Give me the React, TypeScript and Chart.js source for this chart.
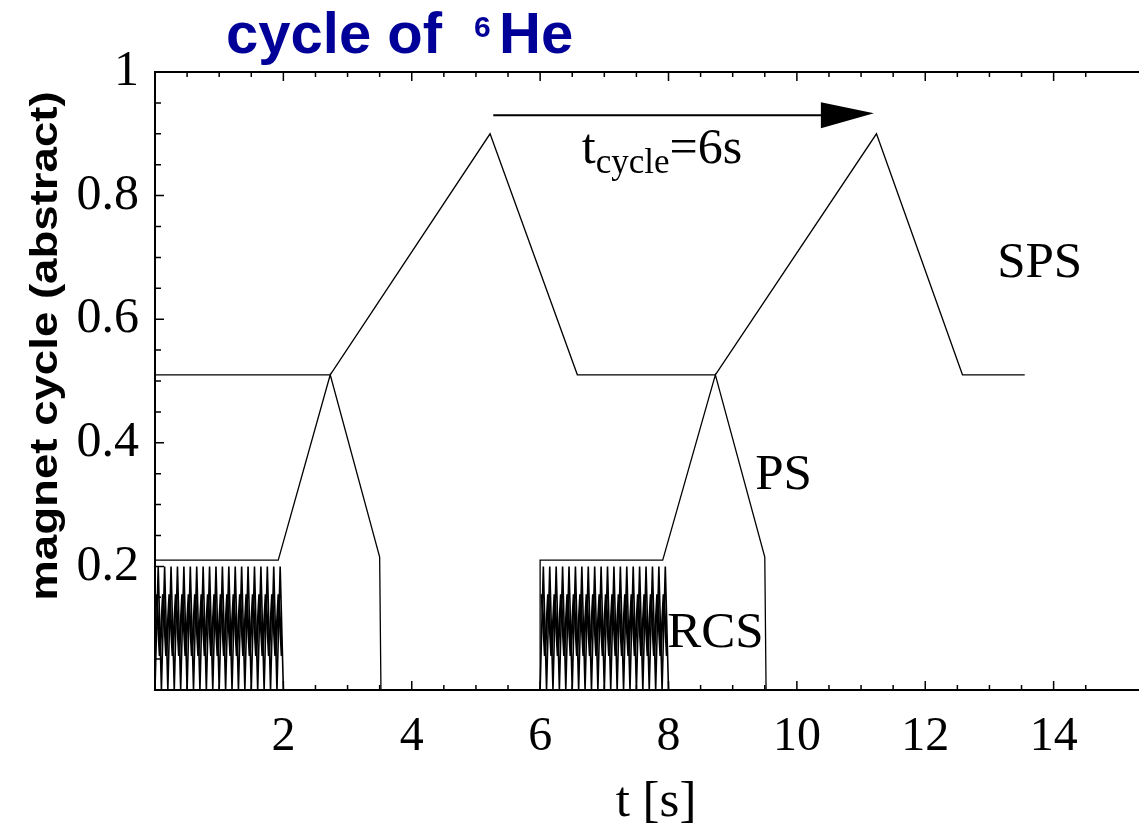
import React, { useEffect, useRef } from 'react';
import { Chart, registerables } from 'chart.js';

Chart.register(...registerables);

// ---- data ----
const spsTimes = [0, 2.73, 5.22, 6.58, 8.73, 11.24, 12.58, 13.55];
const spsLevels = [0.51, 0.51, 0.9, 0.51, 0.51, 0.9, 0.51, 0.51];

const psTimes1 = [0, 1.92, 2.73, 3.5, 3.52];
const psLevels1 = [0.21, 0.21, 0.51, 0.215, 0];
const psTimes2 = [6.0, 6.0, 7.91, 8.73, 9.5, 9.52];
const psLevels2 = [0, 0.21, 0.21, 0.51, 0.215, 0];

const rcsOuterTimes1 = [0, 0.05, 0.1, 0.15, 0.2, 0.25, 0.3, 0.35, 0.4, 0.45, 0.5, 0.55, 0.6, 0.65, 0.7, 0.75, 0.8, 0.85, 0.9, 0.95, 1, 1.05, 1.1, 1.15, 1.2, 1.25, 1.3, 1.35, 1.4, 1.45, 1.5, 1.55, 1.6, 1.65, 1.7, 1.75, 1.8, 1.85, 1.9, 1.95, 2];
const rcsOuterTimes2 = [6, 6.05, 6.1, 6.15, 6.2, 6.25, 6.3, 6.35, 6.4, 6.45, 6.5, 6.55, 6.6, 6.65, 6.7, 6.75, 6.8, 6.85, 6.9, 6.95, 7, 7.05, 7.1, 7.15, 7.2, 7.25, 7.3, 7.35, 7.4, 7.45, 7.5, 7.55, 7.6, 7.65, 7.7, 7.75, 7.8, 7.85, 7.9, 7.95, 8];
const rcsOuterLevels = [0, 0.2, 0, 0.2, 0, 0.2, 0, 0.2, 0, 0.2, 0, 0.2, 0, 0.2, 0, 0.2, 0, 0.2, 0, 0.2, 0, 0.2, 0, 0.2, 0, 0.2, 0, 0.2, 0, 0.2, 0, 0.2, 0, 0.2, 0, 0.2, 0, 0.2, 0, 0.2, 0];

const rcsInnerTimes1 = [0.025, 0.075, 0.125, 0.175, 0.225, 0.275, 0.325, 0.375, 0.425, 0.475, 0.525, 0.575, 0.625, 0.675, 0.725, 0.775, 0.825, 0.875, 0.925, 0.975, 1.025, 1.075, 1.125, 1.175, 1.225, 1.275, 1.325, 1.375, 1.425, 1.475, 1.525, 1.575, 1.625, 1.675, 1.725, 1.775, 1.825, 1.875, 1.925, 1.975];
const rcsInnerTimes2 = [6.025, 6.075, 6.125, 6.175, 6.225, 6.275, 6.325, 6.375, 6.425, 6.475, 6.525, 6.575, 6.625, 6.675, 6.725, 6.775, 6.825, 6.875, 6.925, 6.975, 7.025, 7.075, 7.125, 7.175, 7.225, 7.275, 7.325, 7.375, 7.425, 7.475, 7.525, 7.575, 7.625, 7.675, 7.725, 7.775, 7.825, 7.875, 7.925, 7.975];
const rcsInnerLevels = [0.155, 0.055, 0.155, 0.055, 0.155, 0.055, 0.155, 0.055, 0.155, 0.055, 0.155, 0.055, 0.155, 0.055, 0.155, 0.055, 0.155, 0.055, 0.155, 0.055, 0.155, 0.055, 0.155, 0.055, 0.155, 0.055, 0.155, 0.055, 0.155, 0.055, 0.155, 0.055, 0.155, 0.055, 0.155, 0.055, 0.155, 0.055, 0.155, 0.055];

const xLabelValues = [2, 4, 6, 8, 10, 12, 14];
const xLabelTexts = ['2', '4', '6', '8', '10', '12', '14'];
const yLabelValues = [0.2, 0.4, 0.6, 0.8, 1];
const yLabelTexts = ['0.2', '0.4', '0.6', '0.8', '1'];

// arrow: t_cycle
const arrowFrom = 5.27;
const arrowTo = 11.2;
const arrowLevel = 0.93;

const titleMain = 'cycle of';
const titleSup = '6';
const titleEnd = 'He';
const yTitle = 'magnet cycle (abstract)';
const xTitle = 't [s]';
const labelSPS = { text: 'SPS', t: 13.12, v: 0.668 };
const labelPS = { text: 'PS', t: 9.35, v: 0.325 };
const labelRCS = { text: 'RCS', t: 7.98, v: 0.07 };
const labelCycle = { t: 6.65, v: 0.853 };

const SERIF = '"Liberation Serif", "Times New Roman", serif';
const SANS = '"Liberation Sans", Arial, sans-serif';

function pts(ts: number[], vs: number[]) {
  return ts.map((t, i) => ({ x: t, y: vs[i] }));
}

function near(v: number, arr: number[]) {
  return arr.findIndex((a) => Math.abs(a - v) < 1e-6);
}

const decorPlugin = {
  id: 'decor',
  afterDraw(chart: any) {
    const { ctx, chartArea: a, scales } = chart;
    const x = scales.x;
    const y = scales.y;
    ctx.save();
    ctx.strokeStyle = '#000';
    ctx.fillStyle = '#000';
    // frame
    ctx.lineWidth = 2;
    ctx.beginPath();
    ctx.moveTo(a.right, a.top);
    ctx.lineTo(a.left, a.top);
    ctx.lineTo(a.left, a.bottom);
    ctx.lineTo(a.right, a.bottom);
    ctx.stroke();
    // inward ticks
    ctx.lineWidth = 1.5;
    ctx.beginPath();
    x.ticks.forEach((tk: any) => {
      const v = tk.value;
      if (v <= 0 || Math.abs(v * 2 - Math.round(v * 2)) > 1e-6) return;
      const major = Math.abs(v / 2 - Math.round(v / 2)) < 1e-6;
      const len = major ? 9 : 5;
      const px = x.getPixelForValue(v);
      ctx.moveTo(px, a.bottom);
      ctx.lineTo(px, a.bottom - len);
      ctx.moveTo(px, a.top);
      ctx.lineTo(px, a.top + len);
    });
    y.ticks.forEach((tk: any) => {
      const v = tk.value;
      if (v <= 0 || v >= 1) return;
      const major = Math.abs(v / 0.2 - Math.round(v / 0.2)) < 1e-6;
      const len = major ? 9 : 6;
      const py = y.getPixelForValue(v);
      ctx.moveTo(a.left, py);
      ctx.lineTo(a.left + len, py);
    });
    ctx.stroke();

    // arrow
    const ax0 = x.getPixelForValue(arrowFrom);
    const ax1 = x.getPixelForValue(arrowTo);
    const ay = y.getPixelForValue(arrowLevel);
    ctx.lineWidth = 2;
    ctx.beginPath();
    ctx.moveTo(ax0, ay);
    ctx.lineTo(ax1 - 40, ay);
    ctx.stroke();
    ctx.beginPath();
    ctx.moveTo(ax1 - 53, ay - 13);
    ctx.lineTo(ax1, ay - 2);
    ctx.lineTo(ax1 - 53, ay + 13);
    ctx.closePath();
    ctx.fill();

    // curve labels
    ctx.textAlign = 'left';
    ctx.textBaseline = 'alphabetic';
    ctx.font = `51px ${SERIF}`;
    [labelSPS, labelPS, labelRCS].forEach((l) => {
      ctx.fillText(l.text, x.getPixelForValue(l.t), y.getPixelForValue(l.v));
    });
    // t_cycle = 6s
    let cx = x.getPixelForValue(labelCycle.t);
    const cy = y.getPixelForValue(labelCycle.v);
    ctx.font = `50px ${SERIF}`;
    ctx.fillText('t', cx, cy);
    cx += ctx.measureText('t').width;
    ctx.font = `35px ${SERIF}`;
    ctx.fillText('cycle', cx, cy + 10);
    cx += ctx.measureText('cycle').width;
    ctx.font = `50px ${SERIF}`;
    ctx.fillText('=6s', cx, cy);

    // x axis title
    ctx.textAlign = 'center';
    ctx.font = `51px ${SERIF}`;
    ctx.fillText(xTitle, 656, 816);

    // y axis title (bold sans, rotated)
    ctx.save();
    ctx.translate(57, (a.top + a.bottom) / 2 - 35);
    ctx.rotate(-Math.PI / 2);
    ctx.scale(1.2, 1);
    ctx.font = `bold 38px ${SANS}`;
    ctx.textAlign = 'center';
    ctx.fillText(yTitle, 0, 0);
    ctx.restore();

    // main title
    ctx.fillStyle = '#000099';
    ctx.textAlign = 'left';
    ctx.font = `bold 58px ${SANS}`;
    ctx.fillText(titleMain, 226, 53);
    ctx.fillText(titleEnd, 499, 53);
    ctx.font = `bold 30px ${SANS}`;
    ctx.fillText(titleSup, 474, 37);
    ctx.restore();
  },
};

export default function App() {
  const ref = useRef<HTMLCanvasElement>(null);
  useEffect(() => {
    if (!ref.current) return;
    const line = (data: any[], w: number) => ({
      data,
      showLine: true,
      borderColor: '#000',
      borderWidth: w,
      pointRadius: 0,
      tension: 0,
      fill: false,
    });
    const chart = new Chart(ref.current, {
      type: 'scatter',
      data: {
        datasets: [
          line(pts(spsTimes, spsLevels), 1.3),
          line(pts(psTimes1, psLevels1), 1.3),
          line(pts(psTimes2, psLevels2), 1.3),
          line(pts(rcsOuterTimes1, rcsOuterLevels), 1.6),
          line(pts(rcsOuterTimes2, rcsOuterLevels), 1.6),
          line(pts(rcsInnerTimes1, rcsInnerLevels), 2.3),
          line(pts(rcsInnerTimes2, rcsInnerLevels), 2.3),
        ],
      },
      options: {
        responsive: false,
        animation: false,
        devicePixelRatio: 1,
        layout: { padding: { top: 72, left: 0, right: 0, bottom: 0 } },
        plugins: { legend: { display: false }, tooltip: { enabled: false } },
        scales: {
          x: {
            type: 'linear',
            min: 0,
            max: 15.33,
            grid: { display: false, drawTicks: false },
            border: { display: false },
            ticks: {
              stepSize: 0.5,
              autoSkip: false,
              maxRotation: 0,
              padding: 19,
              color: '#000',
              font: { family: SERIF, size: 48 },
              callback: (v: any) => {
                const i = near(Number(v), xLabelValues);
                return i >= 0 ? xLabelTexts[i] : '';
              },
            },
            afterFit: (s: any) => {
              s.height = 137;
              s.paddingLeft = 0;
              s.paddingRight = 0;
            },
          },
          y: {
            type: 'linear',
            min: 0,
            max: 1,
            grid: { display: false, drawTicks: false },
            border: { display: false },
            ticks: {
              stepSize: 0.05,
              autoSkip: false,
              padding: 16,
              color: '#000',
              font: { family: SERIF, size: 50 },
              callback: (v: any) => {
                const i = near(Number(v), yLabelValues);
                return i >= 0 ? yLabelTexts[i] : '';
              },
            },
            afterFit: (s: any) => {
              s.width = 155;
              s.paddingTop = 0;
              s.paddingBottom = 0;
            },
          },
        },
      },
      plugins: [decorPlugin],
    });
    return () => chart.destroy();
  }, []);
  return (
    <div style={{ position: 'absolute', left: 0, top: 0, width: 1139, height: 827, background: '#fff' }}>
      <canvas ref={ref} width={1139} height={827} />
    </div>
  );
}
